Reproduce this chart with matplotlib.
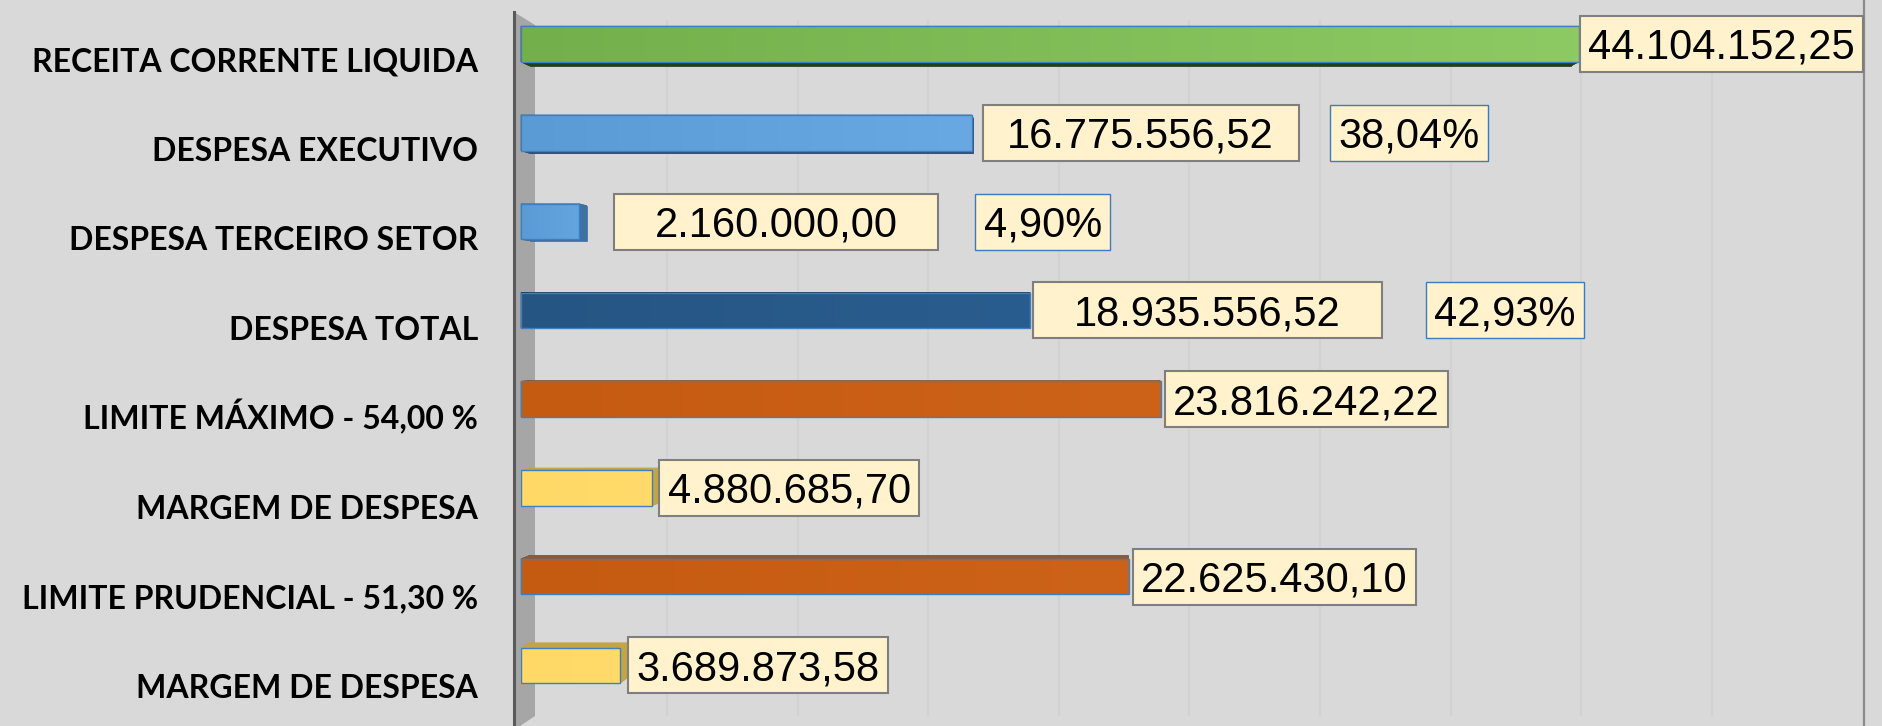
import numpy as np
import matplotlib
matplotlib.use('Agg')
import matplotlib.pyplot as plt
from matplotlib.patches import Polygon, Rectangle
from matplotlib.lines import Line2D
from matplotlib.colors import LinearSegmentedColormap

categories = ['RECEITA CORRENTE LIQUIDA', 'DESPESA EXECUTIVO', 'DESPESA TERCEIRO SETOR',
              'DESPESA TOTAL', 'LIMITE MÁXIMO - 54,00 %', 'MARGEM DE DESPESA',
              'LIMITE PRUDENCIAL - 51,30 %', 'MARGEM DE DESPESA']
values = [44104152.25, 16775556.52, 2160000.00, 18935556.52,
          23816242.22, 4880685.70, 22625430.10, 3689873.58]
pct_rows = [1, 2, 3]
pct_values = [38.04, 4.90, 42.93]

# front face gradient (left -> right) and colour of the 3d side faces
face_left = ['#73b04b', '#5b9bd5', '#5b9bd5', '#255583', '#c55a11', '#ffd966', '#c55a11', '#ffd966']
face_right = ['#8dca64', '#69a9e3', '#64a4df', '#2a5d8f', '#cd6318', '#ffdb6b', '#cd6318', '#ffdb6b']
side_col = ['#213f1b', '#2c4e72', '#3f70a3', '#1b3a5a', '#8c4a1e', '#c4a443', '#8c5a3a', '#c4a443']

# label layout in pixels: gap after the bar, fixed box width (None = fit the text)
val_gap = [1, 11, 35, 3, 4, 7, 4, 8]
val_width = [None, 316, 324, 349, None, None, None, None]
pct_gap = [31, 37, 44]

W, H = 1883, 726
X0, X1 = 521, 1864
VP = np.array([1080.0, 330.0])   # vanishing point of the fake 3d
K_BAR = 0.0153
FS = 30


def br(v):
    s = '{:,.2f}'.format(v)
    return s.replace(',', 'X').replace('.', ',').replace('X', '.')


def fig_xy(pts):
    pts = np.asarray(pts, float)
    return np.column_stack([pts[:, 0] / W, 1 - pts[:, 1] / H])


fig = plt.figure(figsize=(W / 100, H / 100), dpi=100)
fig.patch.set_facecolor('#d9d9d9')

ax = fig.add_axes([X0 / W, 0, (X1 - X0) / W, 1])
ax.set_facecolor('none')
ax2 = ax.twiny()   # RCL sits on its own (secondary) scale, like in the source sheet

h = 0.4
rows = np.arange(len(values))
bars = list(ax2.barh(rows[:1], values[:1], height=h, facecolor='none',
                     edgecolor='#3f7fc0', lw=1.0, zorder=3))
bars += list(ax.barh(rows[1:], values[1:], height=h, facecolor='none',
                     edgecolor='#3f7fc0', lw=1.0, zorder=3))
owners = [ax2] + [ax] * (len(values) - 1)

for i, (b, axx) in enumerate(zip(bars, owners)):
    cmap = LinearSegmentedColormap.from_list('g%d' % i, [face_left[i], face_right[i]])
    im = axx.imshow(np.linspace(0, 1, 256)[None, :], cmap=cmap, aspect='auto',
                    extent=[0, values[i], i - h / 2, i + h / 2], zorder=2,
                    interpolation='bilinear')
    im.set_clip_path(b)

ax.set_xlim(0, 50e6)
ax2.set_xlim(0, 56e6)
ax.set_ylim(7.682, -0.4956)
ax.axis('off')
ax2.axis('off')

''' walls and grid '''
fig.add_artist(Polygon(fig_xy([(514, 12), (535, 25), (535, 716), (514, 730)]),
                       closed=True, transform=fig.transFigure, facecolor='#a6a6a6',
                       edgecolor='none', zorder=-2))
back_x0, back_w = 536.4, 1306
for t in np.arange(5e6, 45e6 + 1, 5e6):
    gx = back_x0 + t / 50e6 * back_w
    fig.add_artist(Line2D([gx / W] * 2, [1 - 21 / H, 1 - 715 / H], transform=fig.transFigure,
                          color='#d2d2d2', lw=1.5, zorder=-1))
fig.add_artist(Line2D([514 / W] * 2, [1 - 12 / H, 0], transform=fig.transFigure,
                      color='#5a5a5a', lw=2.2, zorder=-1))
fig.add_artist(Line2D([X1 / W] * 2, [1, 0], transform=fig.transFigure,
                      color='#8a8a8a', lw=1.6, zorder=-1))

''' 3d faces and labels '''
renderer = fig.canvas.get_renderer()


def box_label(x_left, yc, text, min_w, edge, lw):
    t = fig.text(0, 0, text, fontsize=FS, family='Liberation Sans', ha='center',
                 va='baseline', zorder=5)
    tw = t.get_window_extent(renderer).width
    w = max(tw + 17, min_w or 0)
    fig.add_artist(Rectangle((x_left / W, 1 - (yc + 28) / H), w / W, 56 / H,
                             transform=fig.transFigure, facecolor='#fff2cc',
                             edgecolor=edge, lw=lw, zorder=4))
    t.set_position(((x_left + w / 2) / W, 1 - (yc + 15) / H))
    return x_left + w


for i, axx in enumerate(owners):
    c = axx.transData.transform([(0, i - h / 2), (values[i], i - h / 2),
                                 (values[i], i + h / 2), (0, i + h / 2)])
    front = np.column_stack([c[:, 0], H - c[:, 1]])
    back = front + K_BAR * (VP - front)
    polys = [back] + [np.array([front[j], front[(j + 1) % 4], back[(j + 1) % 4], back[j]])
                      for j in range(4)]
    for p in polys:
        fig.add_artist(Polygon(fig_xy(p), closed=True, transform=fig.transFigure,
                               facecolor=side_col[i], edgecolor=side_col[i], lw=0.5,
                               zorder=-0.5))

    yc = H - axx.transData.transform((0, i))[1]
    end = front[1][0]
    right = box_label(end + val_gap[i], yc, br(values[i]), val_width[i], '#7f7f7f', 1.5)
    if i in pct_rows:
        k = pct_rows.index(i)
        box_label(right + pct_gap[k], yc, '{:.2f}%'.format(pct_values[k]).replace('.', ','),
                  None, '#3a7cc0', 1.0)

    fig.text(478 / W, 1 - (yc + 16 + 0.7 * i + 11.3) / H, categories[i], ha='right',
             va='baseline', fontsize=23, fontweight='bold', family='Lato')

fig.savefig('out.png', dpi=100, facecolor=fig.get_facecolor())
